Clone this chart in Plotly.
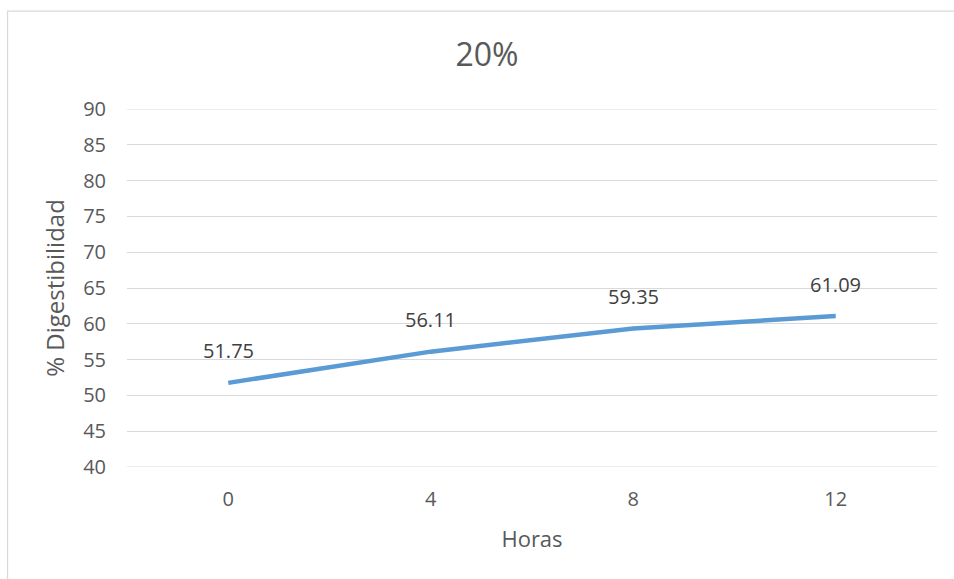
import plotly.graph_objects as go

# Data
horas = ["0", "4", "8", "12"]
digestibilidad = [51.75, 56.11, 59.35, 61.09]
y_ticks = [40, 45, 50, 55, 60, 65, 70, 75, 80, 85, 90]

title_text = "20%"
x_title = "Horas"
y_title = "% Digestibilidad"

TEXT = "#595959"
GRID = "#d9d9d9"
LINE = "#5b9bd5"
FONT = "Open Sans"

fig = go.Figure()
fig.add_trace(go.Scatter(
    x=horas, y=digestibilidad, mode="lines",
    line=dict(color=LINE, width=4.5),
    hoverinfo="skip", showlegend=False,
))

for i, yv in enumerate(digestibilidad):
    fig.add_annotation(
        x=i, y=yv, xref="x", yref="y", text=f"{yv:.2f}", showarrow=False,
        yshift=32, font=dict(family=FONT, size=20, color="#404040"),
    )

# Outer chart border (top and left visible, rest cropped)
fig.add_shape(
    type="rect", xref="paper", yref="paper",
    x0=-0.1475, x1=1.1, y0=-0.4, y1=1.2735,
    line=dict(color=GRID, width=1.2), fillcolor="rgba(0,0,0,0)",
    layer="below",
)

fig.update_layout(
    width=954, height=579,
    margin=dict(l=127, r=16.5, t=108.5, b=111.7),
    paper_bgcolor="white", plot_bgcolor="white",
    font=dict(family=FONT, color=TEXT, size=20),
    title=dict(text=title_text, x=487 / 954, xref="container", xanchor="center",
               y=1 - 55 / 579, yref="container", yanchor="middle",
               font=dict(family=FONT, size=32, color=TEXT)),
    xaxis=dict(
        type="category", range=[-0.5, 3.5],
        showgrid=False, zeroline=False, showline=False,
        ticks="", ticklabelstandoff=18, tickfont=dict(size=20, color=TEXT),
        title=dict(text=x_title, font=dict(size=22, color=TEXT), standoff=20),
    ),
    yaxis=dict(
        range=[40, 90], tickvals=y_ticks,
        showgrid=True, gridcolor=GRID, gridwidth=1,
        zeroline=False, showline=False, ticks="",
        ticklabelstandoff=20,
        tickfont=dict(size=20, color=TEXT),
        title=dict(text=y_title, font=dict(size=24, color=TEXT), standoff=11),
    ),
)

fig.add_shape(type="line", xref="paper", yref="y", x0=0, x1=1, y0=40, y1=40,
              line=dict(color=GRID, width=1), layer="below")
fig.add_shape(type="line", xref="paper", yref="y", x0=0, x1=1, y0=90, y1=90,
              line=dict(color=GRID, width=1), layer="below")

fig.write_html("out.html")
